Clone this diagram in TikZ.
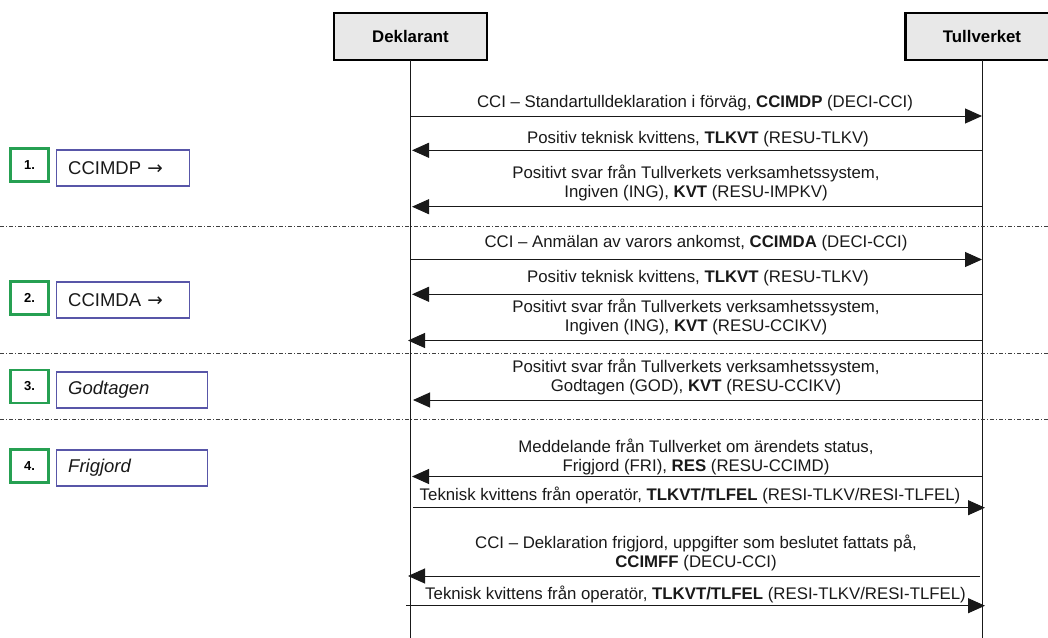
\documentclass[tikz,border=0pt]{standalone}
\usepackage{fontspec}
\setmainfont{Liberation Sans}
\newfontfamily\arrowfont{DejaVu Sans}
\usetikzlibrary{arrows.meta}
\definecolor{stepgreen}{RGB}{38,160,82}
\definecolor{steppurple}{RGB}{88,86,168}
\definecolor{lanefill}{RGB}{232,232,232}
\definecolor{inkgray}{RGB}{25,25,25}
\newcommand{\rarr}{{\arrowfont\char"2192}}
\begin{document}
\begin{tikzpicture}[x=1pt,y=-1pt,
  lane/.style={draw=black, line width=2.5pt, fill=lanefill, minimum width=153pt, minimum height=47pt,
    font=\fontsize{16.8}{19.5}\selectfont\bfseries, inner sep=0pt},
  life/.style={line width=1pt, draw=inkgray},
  msg/.style={line width=1pt, draw=inkgray, -{Triangle[length=17pt,width=15pt]}},
  lbl/.style={font=\fontsize{16.8}{19.5}\selectfont, align=center, inner sep=0pt, text=inkgray},
  sep/.style={line width=1pt, draw=black!75, dash pattern=on 4pt off 2pt on 1pt off 2pt},
  stepno/.style={draw=stepgreen, line width=2.2pt, minimum width=38pt, minimum height=33pt,
    font=\fontsize{13}{15}\selectfont\bfseries, inner sep=0pt},
  stepname/.style={draw=steppurple, line width=1.3pt, minimum height=36pt, inner xsep=12pt, inner ysep=0pt,
    font=\fontsize{18.5}{21}\selectfont, align=left, text=inkgray}
]
\useasboundingbox (0,0) rectangle (1048,637);
\clip (0,0) rectangle (1048,637);

% lanes
\node[lane] (dek) at (410.5,36.5) {Deklarant};
\node[lane] (tull) at (982,36.5) {Tullverket};
\coordinate (dekbot) at (410,640);
\coordinate (tullbot) at (982,640);
\draw[life] (410,60) -- (dekbot);
\draw[life] (982,60) -- (tullbot);

% separators
\coordinate (s1a) at (0,226); \coordinate (s1b) at (1048,226);
\coordinate (s2a) at (0,353); \coordinate (s2b) at (1048,353);
\coordinate (s3a) at (0,419); \coordinate (s3b) at (1048,419);
\draw[sep] (s1a) -- (s1b);
\draw[sep] (s2a) -- (s2b);
\draw[sep] (s3a) -- (s3b);

% step boxes
\node[stepno] (n1) at (29.5,165) {1.};
\node[stepname, text width=109pt] (p1) at (122.7,168) {CCIMDP \rarr};
\node[stepno] (n2) at (29.5,298) {2.};
\node[stepname, text width=109pt] (p2) at (122.7,300) {CCIMDA \rarr};
\node[stepno] (n3) at (29.5,386.5) {3.};
\node[stepname, text width=127pt] (p3) at (131.7,390) {\itshape Godtagen};
\node[stepno] (n4) at (29.5,466) {4.};
\node[stepname, text width=127pt] (p4) at (131.7,468) {\itshape Frigjord};

% message end points
\coordinate (a1s) at (410,116);   \coordinate (a1e) at (982,116);
\coordinate (a2s) at (982,150.3); \coordinate (a2e) at (412,150.3);
\coordinate (a3s) at (982,206.7); \coordinate (a3e) at (412,206.7);
\coordinate (a4s) at (410,259.5); \coordinate (a4e) at (982,259.5);
\coordinate (a5s) at (982,294.3); \coordinate (a5e) at (412,294.3);
\coordinate (a6s) at (982,340.5); \coordinate (a6e) at (408,340.5);
\coordinate (a7s) at (982,400);   \coordinate (a7e) at (413,400);
\coordinate (a8s) at (982,476.5); \coordinate (a8e) at (412,476.5);
\coordinate (a9s) at (413,507.7); \coordinate (a9e) at (985,507.7);
\coordinate (a10s) at (980,576);  \coordinate (a10e) at (408,576);
\coordinate (a11s) at (406,605.7); \coordinate (a11e) at (985,605.7);

\draw[msg] (a1s) -- (a1e);
\draw[msg] (a2s) -- (a2e);
\draw[msg] (a3s) -- (a3e);
\draw[msg] (a4s) -- (a4e);
\draw[msg] (a5s) -- (a5e);
\draw[msg] (a6s) -- (a6e);
\draw[msg] (a7s) -- (a7e);
\draw[msg] (a8s) -- (a8e);
\draw[msg] (a9s) -- (a9e);
\draw[msg] (a10s) -- (a10e);
\draw[msg] (a11s) -- (a11e);

% labels
\node[lbl] (m1) at (695,103) {CCI – Standartulldeklaration i förväg, \textbf{CCIMDP} (DECI-CCI)};
\node[lbl] (m2) at (698,139) {Positiv teknisk kvittens, \textbf{TLKVT} (RESU-TLKV)};
\node[lbl] (m3) at (696,183) {Positivt svar från Tullverkets verksamhetssystem,\\Ingiven (ING), \textbf{KVT} (RESU-IMPKV)};
\node[lbl] (m4) at (696,243) {CCI – Anmälan av varors ankomst, \textbf{CCIMDA} (DECI-CCI)};
\node[lbl] (m5) at (698,278) {Positiv teknisk kvittens, \textbf{TLKVT} (RESU-TLKV)};
\node[lbl] (m6) at (696,317) {Positivt svar från Tullverkets verksamhetssystem,\\Ingiven (ING), \textbf{KVT} (RESU-CCIKV)};
\node[lbl] (m7) at (696,377) {Positivt svar från Tullverkets verksamhetssystem,\\Godtagen (GOD), \textbf{KVT} (RESU-CCIKV)};
\node[lbl] (m8) at (696,457) {Meddelande från Tullverket om ärendets status,\\Frigjord (FRI), \textbf{RES} (RESU-CCIMD)};
\node[lbl] (m9) at (690,495) {Teknisk kvittens från operatör, \textbf{TLKVT/TLFEL} (RESI-TLKV/RESI-TLFEL)};
\node[lbl] (m10) at (696,553) {CCI – Deklaration frigjord, uppgifter som beslutet fattats på,\\\textbf{CCIMFF} (DECU-CCI)};
\node[lbl] (m11) at (695.5,594) {Teknisk kvittens från operatör, \textbf{TLKVT/TLFEL} (RESI-TLKV/RESI-TLFEL)};
\end{tikzpicture}
\end{document}
